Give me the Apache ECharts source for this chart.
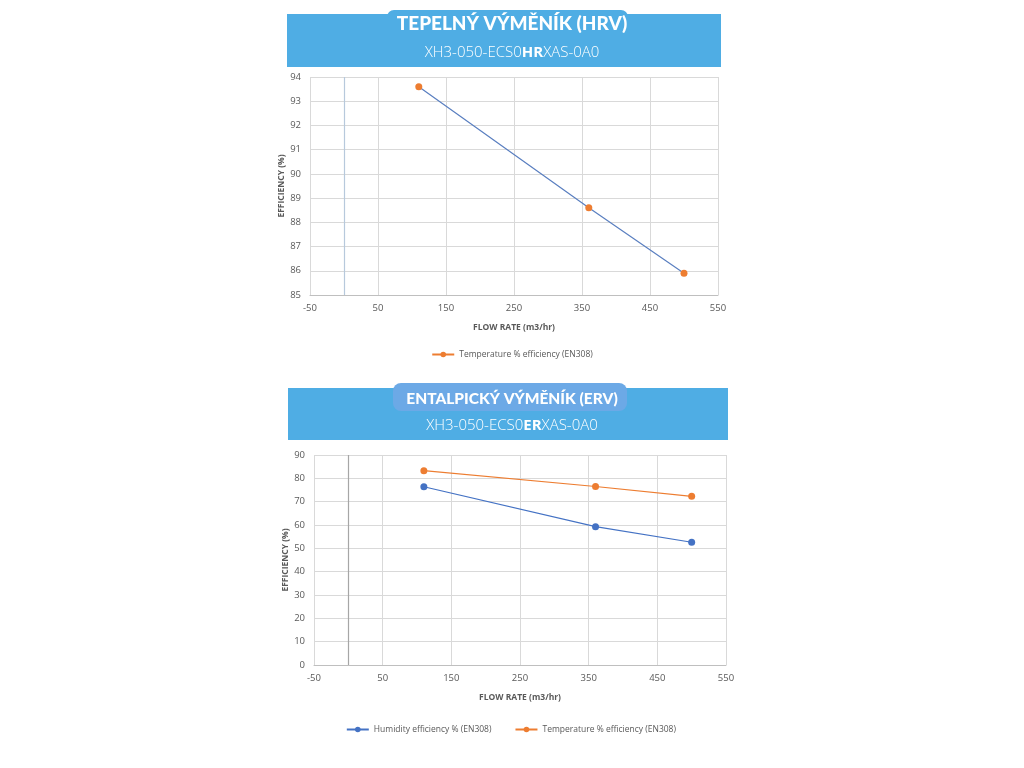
<!DOCTYPE html>
<html>
<head>
<meta charset="utf-8">
<script src="https://cdn.jsdelivr.net/npm/echarts@6/dist/echarts.min.js"></script>
<style>
html,body{margin:0;padding:0;background:#fff;}
#c{width:1024px;height:768px;}
</style>
</head>
<body>
<div id="c"></div>
<script>
// ---- data ----
var xTicks = [-50, 50, 150, 250, 350, 450, 550];
var flowRate = [110, 360, 500];
var hrvTemperature = [93.6, 88.6, 85.9];
var ervHumidity = [76.4, 59.3, 52.6];
var ervTemperature = [83.3, 76.5, 72.3];
var hrvTitle = 'TEPELNÝ VÝMĚNÍK (HRV)';
var ervTitle = 'ENTALPICKÝ VÝMĚNÍK (ERV)';
var hrvCode = ['XH3-050-ECS0', 'HR', 'XAS-0A0'];
var ervCode = ['XH3-050-ECS0', 'ER', 'XAS-0A0'];
var nameTemp = 'Temperature % efficiency (EN308)';
var nameHum = 'Humidity efficiency % (EN308)';
var xName = 'FLOW RATE (m3/hr)';
var yName = 'EFFICIENCY (%)';

function pairs(xs, ys){ return xs.map(function(x,i){ return [x, ys[i]]; }); }

var BLUE = '#4472C4', ORANGE = '#ED7D31', BANNER = '#4FADE4', TAB2 = '#6CA9E6';
var grey = '#595959', gridC = '#d9d9d9';

var chart = echarts.init(document.getElementById('c'), null, {renderer:'canvas'});

function xAx(idx){
  return {
    type:'value', gridIndex:idx, min:-50, max:550, interval:100,
    name:xName, nameLocation:'middle', nameGap:28,
    nameTextStyle:{color:grey, fontSize:8.5, fontWeight:'bold', fontFamily:'Open Sans'},
    axisLine:{show:true, onZero:false, lineStyle:{color:'#bfbfbf'}},
    axisTick:{show:false},
    axisLabel:{color:grey, fontSize:9.5, fontFamily:'Open Sans', margin:8},
    splitLine:{show:true, lineStyle:{color:gridC, width:1}}
  };
}
function yAx(idx, min, max, interval){
  return {
    type:'value', gridIndex:idx, min:min, max:max, interval:interval,
    name:yName, nameLocation:'middle', nameGap:23, nameRotate:90,
    nameTextStyle:{color:grey, fontSize:8.5, fontWeight:'bold', fontFamily:'Open Sans'},
    axisLine:{show:false}, axisTick:{show:false},
    axisLabel:{color:grey, fontSize:9.5, fontFamily:'Open Sans', margin:9},
    splitLine:{show:true, lineStyle:{color:gridC, width:1}}
  };
}

function banner(x, y, w, h, tab, titleY, titleSize, title, code, codeY){
  return [
    {type:'rect', shape:{x:x, y:y, width:w, height:h}, style:{fill:BANNER}, z:1},
    {type:'rect', shape:{x:tab.x, y:tab.y, width:tab.w, height:tab.h, r:tab.r}, style:{fill:tab.fill}, z:2},
    {type:'text', x:512, y:titleY, z:3, style:{text:title, fill:'#fff', fontWeight:900, fontSize:titleSize, fontFamily:'Lato', align:'center', verticalAlign:'middle'}},
    {type:'text', x:512, y:codeY, z:3, style:{
      text:'{n|'+code[0]+'}{b|'+code[1]+'}{n|'+code[2]+'}', fill:'#fff', align:'center', verticalAlign:'middle',
      rich:{n:{fill:'#fff', fontWeight:300, fontSize:15, fontFamily:'Open Sans'},
            b:{fill:'#fff', fontWeight:'bold', fontSize:15, fontFamily:'Open Sans'}}
    }}
  ];
}

var zeroLine = function(color){
  return {silent:true, symbol:'none', label:{show:false}, lineStyle:{color:color, type:'solid', width:1.2},
          data:[{xAxis:0}]};
};

var option = {
  animation:false,
  backgroundColor:'#fff',
  graphic: [].concat(
    banner(287, 14, 434, 53, {x:387, y:10, w:241, h:20, r:[7,7,0,0], fill:BANNER}, 24, 19, hrvTitle, hrvCode, 53),
    banner(288, 388, 440, 52, {x:393, y:383, w:234, h:28, r:8, fill:TAB2}, 399, 15.5, ervTitle, ervCode, 426)
  ),
  grid:[
    {left:310, top:77, width:408, height:218},
    {left:314, top:455, width:412, height:210}
  ],
  xAxis:[xAx(0), xAx(1)],
  yAxis:[yAx(0, 85, 94, 1), yAx(1, 0, 90, 10)],
  legend:[
    {top:345, left:'center', itemWidth:22, itemHeight:7,
     textStyle:{color:grey, fontSize:8.5, fontFamily:'Open Sans'},
     data:[{name:nameTemp, itemStyle:{color:ORANGE}, lineStyle:{color:ORANGE}}]},
    {top:720, left:'center', itemWidth:22, itemHeight:7, itemGap:23,
     textStyle:{color:grey, fontSize:8.5, fontFamily:'Open Sans'},
     data:[{name:nameHum}, {name:nameTemp+' '}]}
  ],
  series:[
    {name:nameTemp, type:'line', xAxisIndex:0, yAxisIndex:0, data:pairs(flowRate, hrvTemperature),
     symbol:'circle', symbolSize:7, itemStyle:{color:ORANGE},
     lineStyle:{color:'#5a7fc0', width:1.2}, markLine:zeroLine('#b7c9dc')},
    {name:nameHum, type:'line', xAxisIndex:1, yAxisIndex:1, data:pairs(flowRate, ervHumidity),
     symbol:'circle', symbolSize:7, itemStyle:{color:BLUE},
     lineStyle:{color:BLUE, width:1.2}, markLine:zeroLine('#a6a6a6')},
    {name:nameTemp+' ', type:'line', xAxisIndex:1, yAxisIndex:1, data:pairs(flowRate, ervTemperature),
     symbol:'circle', symbolSize:7, itemStyle:{color:ORANGE},
     lineStyle:{color:ORANGE, width:1.2}}
  ]
};
chart.setOption(option);
</script>
</body>
</html>
